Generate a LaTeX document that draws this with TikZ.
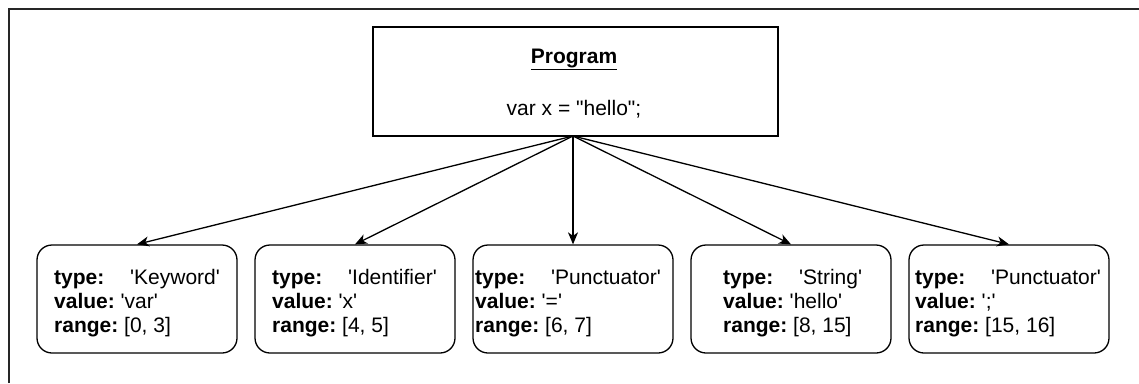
\documentclass[tikz,border=0pt]{standalone}
\usepackage{fontspec}
\setmainfont{Liberation Sans}[Ligatures=TeXOff]
\usetikzlibrary{arrows.meta}

\tikzset{
  token/.style={draw, line width=1.3pt, rounded corners=15pt,
    minimum width=200pt, minimum height=108pt, inner sep=0pt},
  prog/.style={draw, line width=1.3pt, minimum width=405pt,
    minimum height=109pt, inner sep=0pt},
  tokentext/.style={anchor=west, align=left, inner sep=0pt,
    font=\fontsize{21}{24}\selectfont},
  progtext/.style={inner sep=0pt, font=\fontsize{21}{24}\selectfont},
  link/.style={line width=1.3pt, -{Stealth[length=12pt, width=10pt, inset=3.5pt]}},
  frame/.style={line width=1.6pt, draw=black!85},
}
\newcommand{\fieldtype}[1]{\makebox[76pt][l]{\textbf{type:}}#1}
\newcommand{\fieldval}[1]{\textbf{value:}\ #1}
\newcommand{\fieldrange}[1]{\textbf{range:}\ #1}

\begin{document}
\begin{tikzpicture}[x=1pt, y=-1pt]
  \useasboundingbox (0,0) rectangle (1139,383);

  % outer frame (top and left edges)
  \draw[frame] (9,383) -- (9,9) -- (1139,9);

  % program box
  \node[prog] (program) at (575.5,81.5) {};
  \node[progtext] (title) at (574,59) {\underline{\textbf{Program}}};
  \node[progtext] (source) at (574,109) {var x = "hello";};

  % token boxes
  \node[token] (kw)  at (137,299)  {};
  \node[token] (id)  at (355,299)  {};
  \node[token] (eq)  at (573,299)  {};
  \node[token] (str) at (791,299)  {};
  \node[token] (sc)  at (1009,299) {};

  % token contents
  \node[tokentext] (kwt) at (54,303)
    {\fieldtype{'Keyword'}\\\fieldval{'var'}\\\fieldrange{[0, 3]}};
  \node[tokentext] (idt) at (272,303)
    {\fieldtype{'Identifier'}\\\fieldval{'x'}\\\fieldrange{[4, 5]}};
  \node[tokentext] (eqt) at (475,303)
    {\fieldtype{'Punctuator'}\\\fieldval{'='}\\\fieldrange{[6, 7]}};
  \node[tokentext] (strt) at (723,303)
    {\fieldtype{'String'}\\\fieldval{'hello'}\\\fieldrange{[8, 15]}};
  \node[tokentext] (sct) at (915,303)
    {\fieldtype{'Punctuator'}\\\fieldval{';'}\\\fieldrange{[15, 16]}};

  % connectors
  \coordinate (src) at (573,136);
  \foreach \t in {kw, id, eq, str, sc}
    \draw[link] (src) -- (\t.north);
\end{tikzpicture}
\end{document}
